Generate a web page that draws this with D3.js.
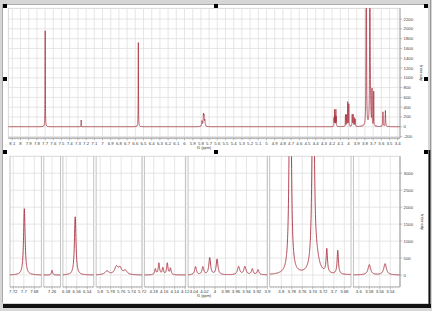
<!DOCTYPE html>
<html><head><meta charset="utf-8">
<script src="https://cdn.jsdelivr.net/npm/d3@7"></script>
<style>body{margin:0;background:#fff}svg{display:block}text{font-family:"Liberation Sans",Arial,sans-serif;fill:#3a3a3a}</style>
</head><body><svg id="c" width="432" height="311"></svg>
<script>
// ---- data (1H NMR spectrum, f1 in ppm) ----
const peakPpm    = [7.699, 7.260, 6.563, 5.787, 5.769, 5.762, 5.752, 4.1768, 4.170, 4.1625, 4.154, 4.148, 4.037, 4.023, 4.010, 3.996, 3.955, 3.943, 3.929, 3.918, 3.783, 3.7393, 3.733, 3.7134, 3.6925, 3.580, 3.550];
const peakHeight = [1960, 140, 1720, 110, 230, 180, 120, 170, 340, 200, 340, 190, 240, 230, 500, 460, 240, 240, 170, 150, 10000, 10000, 380, 700, 700, 300, 330];
const peakWidth  = [0.0035, 0.0025, 0.0035, 0.009, 0.008, 0.007, 0.008, 0.003, 0.003, 0.003, 0.003, 0.003, 0.004, 0.004, 0.004, 0.004, 0.005, 0.005, 0.004, 0.004, 0.0035, 0.0035, 0.012, 0.003, 0.003, 0.006, 0.006];

const topPpmTicks = [8.1, 8, 7.9, 7.8, 7.7, 7.6, 7.5, 7.4, 7.3, 7.2, 7.1, 7, 6.9, 6.8, 6.7, 6.6, 6.5, 6.4, 6.3, 6.2, 6.1, 6, 5.9, 5.8, 5.7, 5.6, 5.5, 5.4, 5.3, 5.2, 5.1, 5, 4.9, 4.8, 4.7, 4.6, 4.5, 4.4, 4.3, 4.2, 4.1, 4, 3.9, 3.8, 3.7, 3.6, 3.5, 3.4];
const topIntensityTicks = [-200, 0, 200, 400, 600, 800, 1000, 1200, 1400, 1600, 1800, 2000, 2200];

const segStart = [7.7263, 7.2757, 6.5865, 5.8076, 4.1976, 4.0512, 3.8222, 3.6102];
const segEnd   = [7.6665, 7.2440, 6.5277, 5.7203, 4.1190, 3.9005, 3.6672, 3.5216];
const segTicks = [[7.72, 7.7, 7.68], [7.26], [6.58, 6.56, 6.54], [5.8, 5.78, 5.76, 5.74, 5.72], [4.18, 4.16, 4.14, 4.12], [4.04, 4.02, 4, 3.98, 3.96, 3.94, 3.92, 3.9], [3.8, 3.78, 3.76, 3.74, 3.72, 3.7, 3.68], [3.6, 3.58, 3.56, 3.54]];
const bottomIntensityTicks = [0, 500, 1000, 1500, 2000, 2500, 3000];

// ---- drawing ----
const W = 432, H = 311;
const lineColor = "#ab3342", gridColor = "#e0e0e0", axisColor = "#9a9a9a";
const svg = d3.select("#c");
const fmt = d => String(+d.toFixed(2));
const fs = 4.3;

function intensity(p) {
  let s = 0;
  for (let i = 0; i < peakPpm.length; i++) {
    const d = (p - peakPpm[i]) / (peakWidth[i] / 2);
    s += peakHeight[i] / (1 + d * d);
  }
  return s;
}

// page frame
svg.append("rect").attr("width", W).attr("height", H).attr("fill", "#d6d6d6");
svg.append("rect").attr("x", 3).attr("y", 4).attr("width", 425).attr("height", 299).attr("fill", "#fff");
svg.append("line").attr("x1", 3).attr("x2", 428).attr("y1", 4.5).attr("y2", 4.5).attr("stroke", "#aaa");
svg.append("line").attr("x1", 2.5).attr("x2", 2.5).attr("y1", 4).attr("y2", 303).attr("stroke", "#aaa");
svg.append("rect").attr("x", 3).attr("y", 304).attr("width", 428).attr("height", 4).attr("fill", "#111");
svg.append("rect").attr("x", 428.5).attr("y", 150).attr("width", 2).attr("height", 158).attr("fill", "#111");
svg.append("line").attr("x1", 430.5).attr("x2", 430.5).attr("y1", 0).attr("y2", 150).attr("stroke", "#999");

// ================= TOP PANEL =================
const tL = 8.3, tR = 400, tT = 8.3, tB = 138;
const topX = d3.scaleLinear().domain([8.149, 3.372]).range([tL, tR]);
const topY = d3.scaleLinear().domain([-230, 2420]).range([tB, tT]);
const topG = svg.append("g");
topG.append("rect").attr("x", tL).attr("y", tT).attr("width", tR - tL).attr("height", tB - tT).attr("fill", "#fff").attr("stroke", "#cfcfcf").attr("stroke-width", 0.8);
topG.selectAll(".vg").data(topPpmTicks).join("line")
  .attr("x1", d => topX(d)).attr("x2", d => topX(d)).attr("y1", tT).attr("y2", tB)
  .attr("stroke", gridColor).attr("stroke-width", 0.8);
topG.selectAll(".hg").data(topIntensityTicks).join("line")
  .attr("x1", tL).attr("x2", tR).attr("y1", d => topY(d)).attr("y2", d => topY(d))
  .attr("stroke", gridColor).attr("stroke-width", 0.8);
svg.append("clipPath").attr("id", "clipTop").append("rect").attr("x", tL).attr("y", tT).attr("width", tR - tL).attr("height", tB - tT);
const topSamples = d3.range(8.149, 3.372, -0.0004).map(p => [p, intensity(p)]);
topG.append("path").datum(topSamples).attr("clip-path", "url(#clipTop)")
  .attr("d", d3.line().x(d => topX(d[0])).y(d => topY(d[1])))
  .attr("fill", "none").attr("stroke", lineColor).attr("stroke-width", 0.8);
// x axis
topG.append("line").attr("x1", tL).attr("x2", tR).attr("y1", tB).attr("y2", tB).attr("stroke", axisColor).attr("stroke-width", 0.8);
topG.selectAll(".mt").data(d3.range(8.14, 3.38, -0.02)).join("line")
  .attr("x1", d => topX(d)).attr("x2", d => topX(d)).attr("y1", tB).attr("y2", tB + 1.3)
  .attr("stroke", axisColor).attr("stroke-width", 0.5);
topG.selectAll(".Mt").data(topPpmTicks).join("line")
  .attr("x1", d => topX(d)).attr("x2", d => topX(d)).attr("y1", tB).attr("y2", tB + 2.3)
  .attr("stroke", axisColor).attr("stroke-width", 0.6);
topG.selectAll(".xl").data(topPpmTicks).join("text")
  .attr("x", d => topX(d)).attr("y", 145).attr("text-anchor", "middle").attr("font-size", fs).text(d => String(+d.toFixed(1)));
topG.append("text").attr("x", 204).attr("y", 148.6).attr("text-anchor", "middle").attr("font-size", 3.8).text("f1 (ppm)");
// y axis (right)
topG.append("line").attr("x1", tR).attr("x2", tR).attr("y1", tT).attr("y2", tB).attr("stroke", axisColor).attr("stroke-width", 0.8);
topG.selectAll(".yt").data(topIntensityTicks).join("line")
  .attr("x1", tR).attr("x2", tR + 2.3).attr("y1", d => topY(d)).attr("y2", d => topY(d)).attr("stroke", axisColor).attr("stroke-width", 0.6);
topG.selectAll(".yl").data(topIntensityTicks).join("text")
  .attr("x", tR + 3.5).attr("y", d => topY(d) + 1.5).attr("font-size", fs).text(d => d);
topG.append("text").attr("transform", "translate(420,73) rotate(90)").attr("text-anchor", "middle").attr("font-size", fs).text("Intensity");

// ================= BOTTOM PANEL =================
const bL = 10, bR = 400, bT = 156.3, bB = 286.9, gap = 2.4;
const botY = d3.scaleLinear().domain([-350, 3500]).range([bB, bT]);
const botG = svg.append("g");
const totalPpm = d3.sum(segStart.map((s, i) => s - segEnd[i]));
const k = (bR - bL - gap * (segStart.length - 1)) / totalPpm;
let x0 = bL;
botG.append("line").attr("x1", bL).attr("x2", bR).attr("y1", bT).attr("y2", bT).attr("stroke", "#d0d0d0").attr("stroke-width", 0.8);
segStart.forEach((s, i) => {
  const e = segEnd[i];
  const w = (s - e) * k;
  const sx = d3.scaleLinear().domain([s, e]).range([x0, x0 + w]);
  const g = botG.append("g");
  g.selectAll(".vg").data(segTicks[i]).join("line")
    .attr("x1", d => sx(d)).attr("x2", d => sx(d)).attr("y1", bT).attr("y2", bB)
    .attr("stroke", gridColor).attr("stroke-width", 0.8);
  g.selectAll(".hg").data(bottomIntensityTicks).join("line")
    .attr("x1", x0).attr("x2", x0 + w).attr("y1", d => botY(d)).attr("y2", d => botY(d))
    .attr("stroke", gridColor).attr("stroke-width", 0.8);
  g.append("line").attr("x1", x0).attr("x2", x0).attr("y1", bT).attr("y2", bB).attr("stroke", "#b4b4b4").attr("stroke-width", 0.8);
  g.append("line").attr("x1", x0 + w).attr("x2", x0 + w).attr("y1", bT).attr("y2", bB).attr("stroke", "#b4b4b4").attr("stroke-width", 0.8);
  const cid = "clipSeg" + i;
  svg.append("clipPath").attr("id", cid).append("rect").attr("x", x0).attr("y", bT).attr("width", w).attr("height", bB - bT);
  const samples = d3.range(s, e - 0.0001, -0.0002).map(p => [p, intensity(p)]);
  g.append("path").datum(samples).attr("clip-path", `url(#${cid})`)
    .attr("d", d3.line().x(d => sx(d[0])).y(d => botY(d[1])))
    .attr("fill", "none").attr("stroke", lineColor).attr("stroke-width", 0.9);
  // axis
  g.append("line").attr("x1", x0).attr("x2", x0 + w).attr("y1", bB).attr("y2", bB).attr("stroke", axisColor).attr("stroke-width", 0.8);
  const minor = d3.range(Math.floor(s * 200) / 200, e, -0.005);
  g.selectAll(".mt").data(minor).join("line")
    .attr("x1", d => sx(d)).attr("x2", d => sx(d)).attr("y1", bB).attr("y2", bB + 1.3).attr("stroke", axisColor).attr("stroke-width", 0.5);
  g.selectAll(".Mt").data(segTicks[i]).join("line")
    .attr("x1", d => sx(d)).attr("x2", d => sx(d)).attr("y1", bB).attr("y2", bB + 2.3).attr("stroke", axisColor).attr("stroke-width", 0.6);
  g.selectAll(".xl").data(segTicks[i]).join("text")
    .attr("x", d => sx(d)).attr("y", 293.3).attr("text-anchor", "middle").attr("font-size", fs).text(fmt);
  x0 += w + gap;
});
botG.append("text").attr("x", 204).attr("y", 297).attr("text-anchor", "middle").attr("font-size", 3.8).text("f1 (ppm)");
botG.append("line").attr("x1", bR).attr("x2", bR).attr("y1", bT).attr("y2", bB).attr("stroke", axisColor).attr("stroke-width", 0.8);
botG.selectAll(".yt").data(bottomIntensityTicks).join("line")
  .attr("x1", bR).attr("x2", bR + 2.3).attr("y1", d => botY(d)).attr("y2", d => botY(d)).attr("stroke", axisColor).attr("stroke-width", 0.6);
botG.selectAll(".yl").data(bottomIntensityTicks).join("text")
  .attr("x", bR + 3.5).attr("y", d => botY(d) + 1.5).attr("font-size", fs).text(d => d);
botG.append("text").attr("transform", "translate(421,222) rotate(90)").attr("text-anchor", "middle").attr("font-size", fs).text("Intensity");

// selection handles around the top panel
const handles = [[5, 6], [216, 6], [426, 6], [5, 79], [426, 79], [5, 152], [216, 152], [426, 152]];
svg.selectAll(".h").data(handles).join("rect")
  .attr("x", d => d[0] - 2).attr("y", d => d[1] - 2).attr("width", 4).attr("height", 4).attr("fill", "#000");
</script></body></html>
